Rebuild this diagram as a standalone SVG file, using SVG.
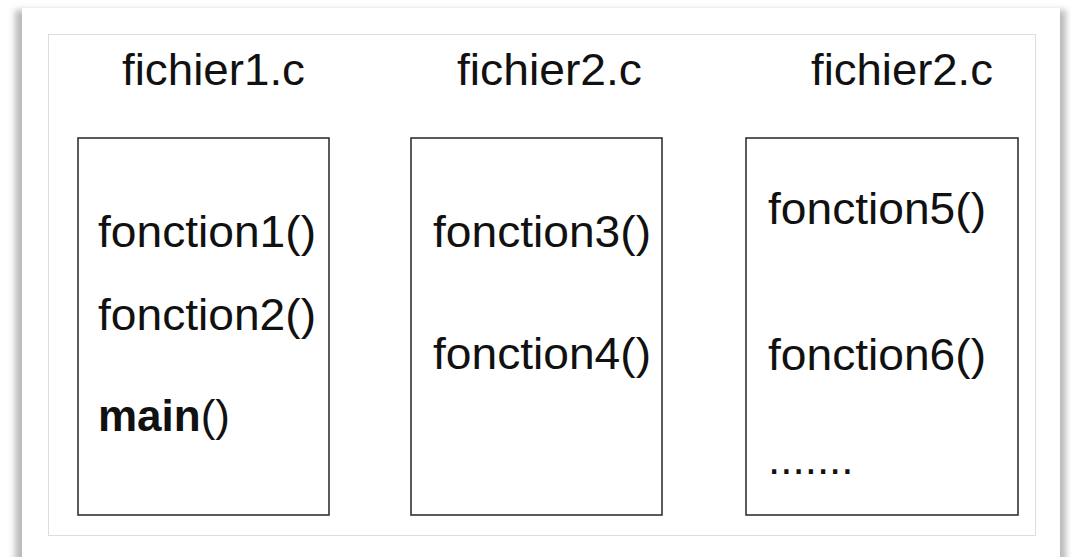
<svg xmlns="http://www.w3.org/2000/svg" width="1071" height="557" viewBox="0 0 1071 557">
<defs>
<filter id="sh" x="-5%" y="-5%" width="110%" height="110%"><feGaussianBlur stdDeviation="3"/></filter>
<style>
.t{font-family:"Liberation Sans",Arial,Helvetica,sans-serif;font-size:44px;fill:#111}
.b{fill:#fff;stroke:#333;stroke-width:1.6}
</style>
</defs>
<rect width="1071" height="557" fill="#fff"/>
<rect x="15" y="10" width="1051" height="600" fill="#bbb" filter="url(#sh)"/>
<rect x="22" y="8" width="1038" height="600" fill="#fff"/>
<rect x="48.5" y="34.5" width="987" height="501" fill="#fff" stroke="#ddd" stroke-width="1"/>
<g id="titles">
<text class="t" x="122" y="85" textLength="183" lengthAdjust="spacingAndGlyphs">fichier1.c</text>
<text class="t" x="457" y="85" textLength="185" lengthAdjust="spacingAndGlyphs">fichier2.c</text>
<text class="t" x="811" y="85" textLength="182" lengthAdjust="spacingAndGlyphs">fichier2.c</text>
</g>
<g id="file1">
<rect class="b" x="78" y="138" width="251" height="377"/>
<text class="t" x="98" y="247" textLength="218" lengthAdjust="spacingAndGlyphs">fonction1()</text>
<text class="t" x="98" y="330" textLength="218" lengthAdjust="spacingAndGlyphs">fonction2()</text>
<text class="t" x="98" y="431"><tspan font-weight="bold">main</tspan>()</text>
</g>
<g id="file2">
<rect class="b" x="411" y="138" width="251" height="377"/>
<text class="t" x="433" y="247" textLength="218" lengthAdjust="spacingAndGlyphs">fonction3()</text>
<text class="t" x="433" y="369" textLength="218" lengthAdjust="spacingAndGlyphs">fonction4()</text>
</g>
<g id="file3">
<rect class="b" x="746" y="138" width="272" height="377"/>
<text class="t" x="768" y="224" textLength="218" lengthAdjust="spacingAndGlyphs">fonction5()</text>
<text class="t" x="768" y="370" textLength="218" lengthAdjust="spacingAndGlyphs">fonction6()</text>
<text class="t" x="768" y="474">.......</text>
</g>
<g id="connectors"/>
</svg>
